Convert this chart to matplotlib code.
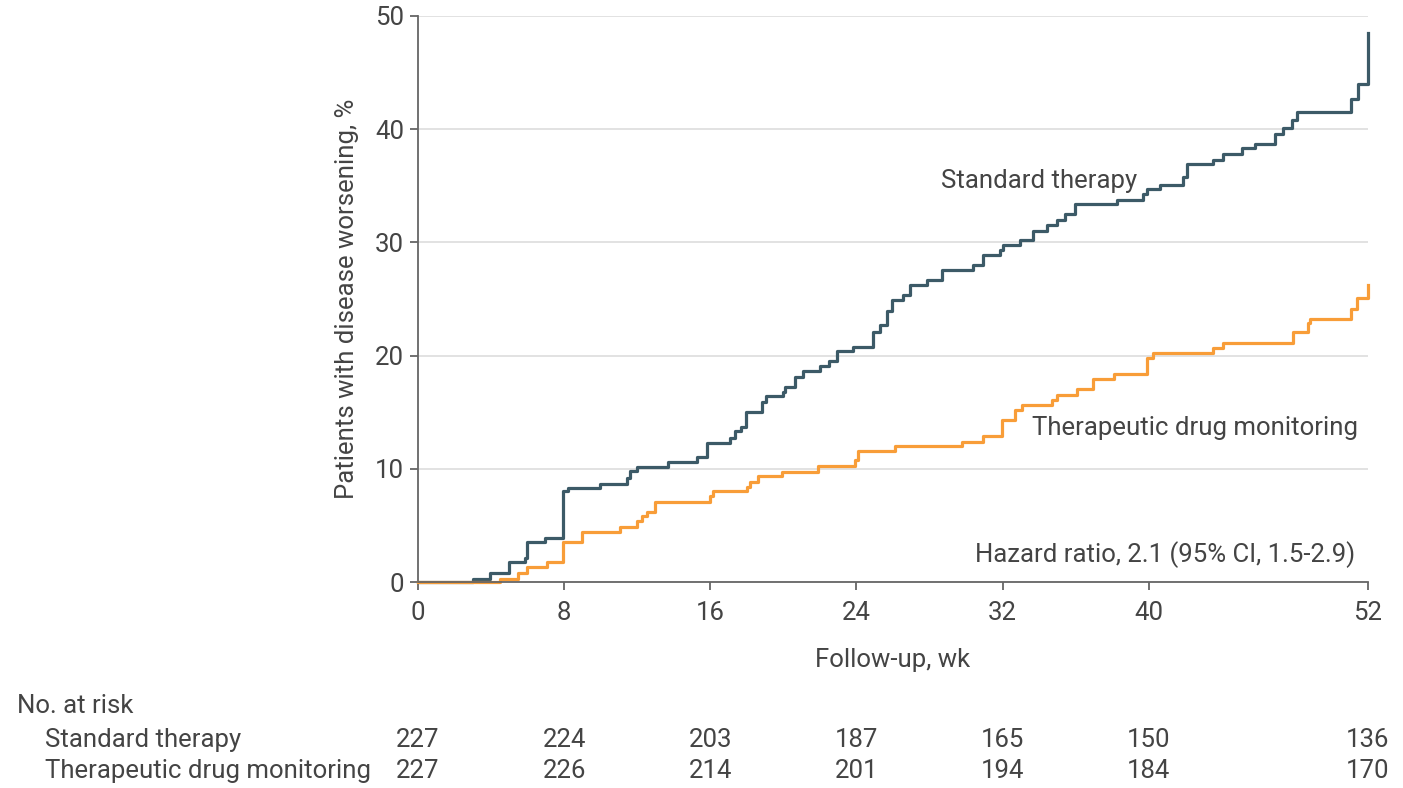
import matplotlib
matplotlib.use("Agg")
import matplotlib.pyplot as plt
import matplotlib.transforms as mtransforms

plt.rcParams['font.family'] = ['Roboto', 'DejaVu Sans']

# step times (weeks) and cumulative % with disease worsening
std_t = [0, 2.99, 3.94, 5.0, 5.86, 5.95, 6.95, 7.95, 8.23, 9.96, 11.42, 11.6, 11.97,
         13.7, 15.25, 15.8, 17.1, 17.35, 17.7, 17.95, 18.85, 19.05, 19.95, 20.09,
         20.63, 21.09, 22.0, 22.5, 22.92, 23.83, 24.89, 25.29, 25.65, 25.93, 26.56,
         26.93, 27.84, 28.66, 30.4, 30.94, 31.86, 32.04, 32.95, 33.68, 34.41, 34.96,
         35.41, 35.96, 38.24, 39.7, 39.9, 40.61, 41.89, 42.07, 43.53, 44.08, 45.08,
         45.81, 46.91, 47.36, 47.82, 48.1, 51.1, 51.47, 52.0]
std_v = [0, 0.3, 0.8, 1.8, 2.1, 3.5, 3.9, 8.0, 8.3, 8.7, 9.2, 9.8, 10.2,
         10.6, 11.0, 12.3, 12.7, 13.3, 13.7, 15.0, 15.9, 16.4, 16.8, 17.25,
         18.1, 18.6, 19.05, 19.55, 20.4, 20.8, 22.1, 22.7, 23.9, 24.9, 25.35,
         26.2, 26.7, 27.55, 28.0, 28.9, 29.35, 29.8, 30.2, 31.0, 31.5, 32.0,
         32.5, 33.35, 33.75, 34.3, 34.7, 35.1, 35.8, 36.9, 37.3, 37.8, 38.3,
         38.7, 39.6, 40.1, 40.8, 41.55, 42.7, 44.0, 48.5]

tdm_t = [0, 4.49, 5.49, 5.95, 7.04, 7.95, 8.96, 11.06, 11.97, 12.24, 12.52, 12.97,
         15.98, 16.16, 17.99, 18.17, 18.63, 19.91, 21.91, 23.92, 24.1, 26.1, 29.76,
         30.94, 31.95, 32.68, 33.04, 34.68, 34.96, 36.1, 36.96, 38.1, 39.9, 40.25,
         43.53, 44.08, 47.91, 48.73, 48.82, 51.1, 51.38, 52.0]
tdm_v = [0, 0.3, 0.8, 1.3, 1.8, 3.55, 4.45, 4.9, 5.35, 5.8, 6.2, 7.1,
         7.6, 8.0, 8.4, 8.85, 9.4, 9.75, 10.25, 10.8, 11.55, 12.0, 12.4,
         12.9, 14.3, 15.2, 15.6, 16.1, 16.55, 17.05, 17.95, 18.4, 19.8, 20.25,
         20.7, 21.15, 22.1, 22.85, 23.2, 24.15, 25.05, 26.25]

risk_weeks = [0, 8, 16, 24, 32, 40, 52]
risk_std = [227, 224, 203, 187, 165, 150, 136]
risk_tdm = [227, 226, 214, 201, 194, 184, 170]

txt = '#444444'
c_std = '#3c5a67'
c_tdm = '#f89d38'
fs = 18.5

fig = plt.figure(figsize=(14.03, 7.88), dpi=100)
ax = fig.add_axes([0.298, 0.2614, 0.677, 0.7183])

ax.step(std_t, std_v, where='post', color=c_std, lw=2.3, zorder=3, clip_on=False)
ax.step(tdm_t, tdm_v, where='post', color=c_tdm, lw=2.3, zorder=3, clip_on=False)

ax.set_xlim(0, 52)
ax.set_ylim(0, 50)
ax.set_xticks(risk_weeks)
ax.set_yticks([0, 10, 20, 30, 40, 50])
ax.grid(axis='y', color='#dddddd', lw=1.2)
ax.set_axisbelow(True)
for s in ['top', 'right']:
    ax.spines[s].set_visible(False)
for s in ['left', 'bottom']:
    ax.spines[s].set_color('#666666')
    ax.spines[s].set_linewidth(1.3)
ax.spines['bottom'].set_zorder(4)
ax.tick_params(colors='#666666', labelcolor=txt, labelsize=fs, length=6, width=1.3)
ax.tick_params(axis='x', pad=8)
ax.tick_params(axis='y', pad=4)

ax.set_xlabel('Follow-up, wk', fontsize=fs, color=txt, labelpad=16)
ax.set_ylabel('Patients with disease worsening, %', fontsize=fs, color=txt, labelpad=12)

ax.text(28.6, 35.4, 'Standard therapy', fontsize=fs, color=txt, va='center', ha='left')
ax.text(33.6, 13.6, 'Therapeutic drug monitoring', fontsize=fs, color=txt, va='center', ha='left')
ax.text(51.3, 2.4, 'Hazard ratio, 2.1 (95% CI, 1.5-2.9)', fontsize=fs, color=txt,
        va='center', ha='right')

# number at risk table
fig.text(17 / 1403, 1 - 706 / 788, 'No. at risk', fontsize=fs, color=txt, va='center')
fig.text(45 / 1403, 1 - 740 / 788, 'Standard therapy', fontsize=fs, color=txt, va='center')
fig.text(45 / 1403, 1 - 771 / 788, 'Therapeutic drug monitoring', fontsize=fs, color=txt,
         va='center')
trans = mtransforms.blended_transform_factory(ax.transData, fig.transFigure)
for w, a, b in zip(risk_weeks, risk_std, risk_tdm):
    ax.text(w, 1 - 740 / 788, str(a), transform=trans, fontsize=fs, color=txt,
            ha='center', va='center', clip_on=False)
    ax.text(w, 1 - 771 / 788, str(b), transform=trans, fontsize=fs, color=txt,
            ha='center', va='center', clip_on=False)

fig.savefig('out.png', dpi=100)
